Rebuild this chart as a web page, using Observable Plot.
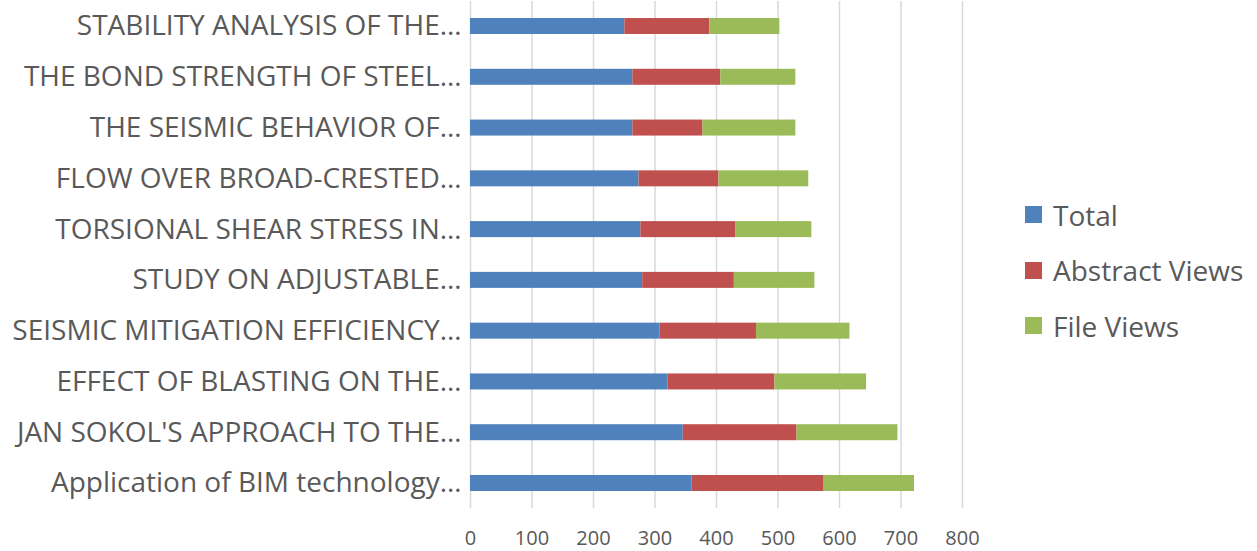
<!DOCTYPE html>
<html><head><meta charset="utf-8">
<script src="https://cdn.jsdelivr.net/npm/d3@7"></script>
<script src="https://cdn.jsdelivr.net/npm/@observablehq/plot@0.6"></script>
<style>
body{margin:0;background:#fff;}
#wrap{position:relative;width:1257px;height:551px;font-family:"Open Sans",sans-serif;}
#legend{position:absolute;left:1025px;top:187px;}
.item{display:flex;align-items:center;height:55.5px;font-size:28px;color:#595959;}
.sw{width:17px;height:17px;margin-right:11px;}
</style>
</head><body><div id="wrap"><div id="legend"></div></div>
<script>
const categories = [
  "STABILITY ANALYSIS OF THE…",
  "THE BOND STRENGTH OF STEEL…",
  "THE SEISMIC BEHAVIOR OF…",
  "FLOW OVER BROAD-CRESTED…",
  "TORSIONAL SHEAR STRESS IN…",
  "STUDY ON ADJUSTABLE…",
  "SEISMIC MITIGATION EFFICIENCY…",
  "EFFECT OF BLASTING ON THE…",
  "JAN SOKOL'S APPROACH TO THE…",
  "Application of BIM technology…"
];
const total         = [251, 264, 264, 274, 277, 280, 308, 321, 346, 360];
const abstractViews = [138, 143, 114, 130, 154, 149, 157, 174, 185, 215];
const fileViews     = [114, 122, 151, 146, 124, 131, 152, 149, 164, 147];
const seriesNames = ["Total", "Abstract Views", "File Views"];
const seriesColors = ["#4f81bd", "#c0504d", "#9bbb59"];
const xTicks = [0, 100, 200, 300, 400, 500, 600, 700, 800];

const seriesValues = [total, abstractViews, fileViews];
const rows = [];
categories.forEach((c, i) => {
  seriesNames.forEach((s, k) => rows.push({category: c, series: s, order: k, value: seriesValues[k][i]}));
});

const chart = Plot.plot({
  width: 1257,
  height: 551,
  marginLeft: 470,
  marginRight: 295,
  marginTop: 1,
  marginBottom: 43,
  style: {fontFamily: '"Open Sans", sans-serif', color: "#595959", background: "#fff"},
  x: {domain: [0, 800], ticks: xTicks, tickSize: 0, tickPadding: 22, label: null, tickFormat: d => String(d)},
  y: {domain: categories, paddingInner: 0.685, paddingOuter: 0.335, round: false, tickSize: 0, tickPadding: 9, label: null},
  color: {domain: seriesNames, range: seriesColors},
  marks: [
    Plot.ruleX(xTicks, {stroke: "#d9d9d9", strokeWidth: 1.5}),
    Plot.barX(rows, Plot.stackX({x: "value", y: "category", fill: "series", z: "series", order: "order"}))
  ]
});
document.getElementById("wrap").prepend(chart);
d3.select(chart).selectAll('g[aria-label^="y-axis"] text').attr("font-size", 28).style("font-size", "28px");
d3.select(chart).selectAll('g[aria-label^="x-axis"] text').attr("font-size", 20).style("font-size", "20px");

const legend = document.getElementById("legend");
seriesNames.forEach((s, k) => {
  const it = document.createElement("div");
  it.className = "item";
  it.innerHTML = `<span class="sw" style="background:${seriesColors[k]}"></span><span>${s}</span>`;
  legend.appendChild(it);
});
</script>
</body></html>
